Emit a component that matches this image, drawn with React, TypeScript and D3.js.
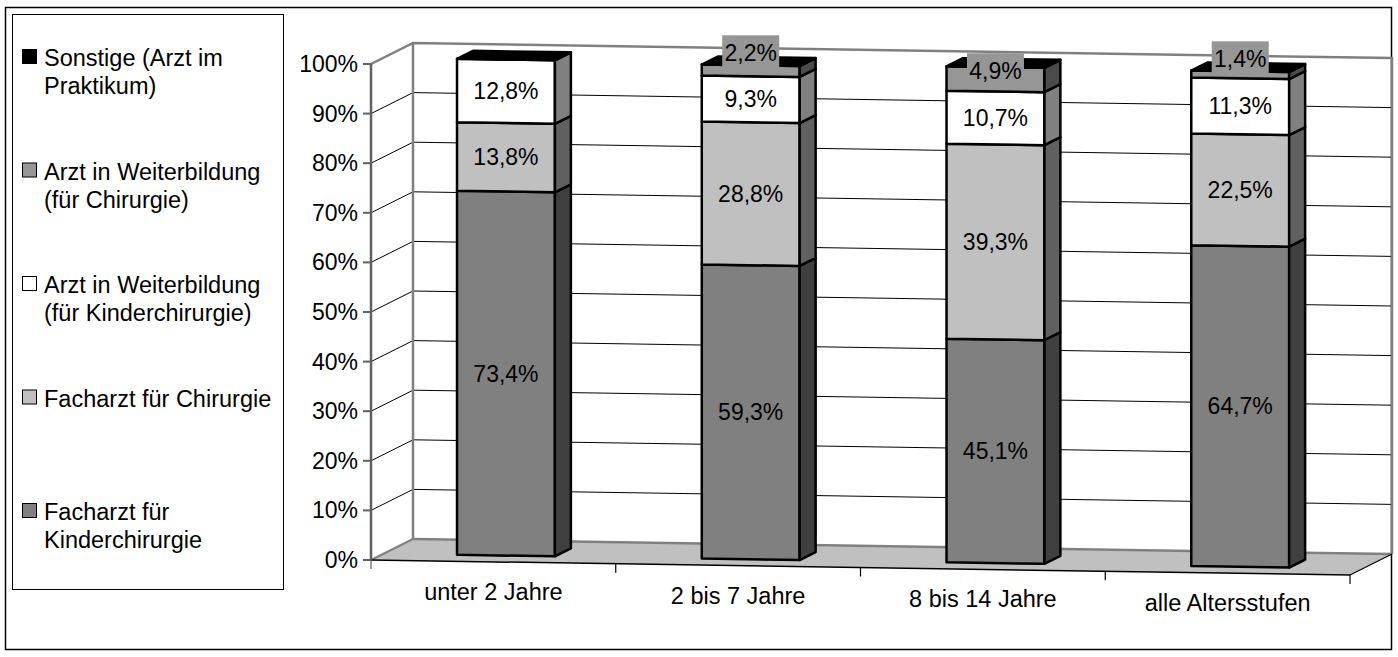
import React from "react";
import * as d3 from "d3";

// Category axis and series data (percent of cases by surgeon qualification)
const categories = ["unter 2 Jahre", "2 bis 7 Jahre", "8 bis 14 Jahre", "alle Altersstufen"];
const facharztKinderchirurgie = [73.4, 59.3, 45.1, 64.7];
const facharztChirurgie = [13.8, 28.8, 39.3, 22.5];
const weiterbildungKinderchirurgie = [12.8, 9.3, 10.7, 11.3];
const weiterbildungChirurgie = [0, 2.2, 4.9, 1.4];
const sonstige = [0, 0, 0, 0];
const yTicks = [0, 10, 20, 30, 40, 50, 60, 70, 80, 90, 100];

const seriesKeys = ["fk", "fc", "wk", "wc", "so"];
const seriesFront = ["#808080", "#c0c0c0", "#ffffff", "#969696", "#000000"];
const seriesSide = ["#404040", "#606060", "#808080", "#4b4b4b", "#000000"];
const legendEntries = [
  { key: "so", lines: ["Sonstige (Arzt im", "Praktikum)"] },
  { key: "wc", lines: ["Arzt in Weiterbildung", "(für Chirurgie)"] },
  { key: "wk", lines: ["Arzt in Weiterbildung", "(für Kinderchirurgie)"] },
  { key: "fc", lines: ["Facharzt für Chirurgie"] },
  { key: "fk", lines: ["Facharzt für", "Kinderchirurgie"] },
];

const FONT = "'Liberation Sans', Arial, Helvetica, sans-serif";
const W = 1398;
const H = 657;

// Oblique projection of the plot box: u along categories, v value, d depth
const X0 = 371, Y0 = 560;
const UX = 979, UY = 15;
const VH = 496;
const DX = 42, DY = -21;
const D0 = 0.3, D1 = 0.68;

const P = (u: number, v: number, d: number): [number, number] => [
  X0 + UX * u + DX * d,
  Y0 + UY * u - VH * v + DY * d,
];
const poly = (pts: [number, number][]) => pts.map((p) => p.join(",")).join(" ");

const de = d3.formatLocale({ decimal: ",", thousands: ".", grouping: [3], currency: ["", " €"] });
const fmt = de.format(".1f");

export default function App() {
  const rows = categories.map((c, i) => ({
    cat: c,
    fk: facharztKinderchirurgie[i],
    fc: facharztChirurgie[i],
    wk: weiterbildungKinderchirurgie[i],
    wc: weiterbildungChirurgie[i],
    so: sonstige[i],
  }));
  const stack = d3.stack<any>().keys(seriesKeys)(rows);

  const xBand = d3.scaleBand<string>().domain(categories).range([0, 1]).paddingInner(0.6).paddingOuter(0.3);
  const vScale = d3.scaleLinear().domain([0, 100]).range([0, 1]);
  const bw = xBand.bandwidth();
  const step = xBand.step();

  const floor = [P(0, 0, 0), P(1, 0, 0), P(1, 0, 1), P(0, 0, 1)];

  const bars: React.ReactNode[] = [];
  const labels: React.ReactNode[] = [];

  categories.forEach((cat, i) => {
    const u0 = xBand(cat)!;
    const u1 = u0 + bw;
    const uc = u0 + bw / 2;
    let top = 0;
    stack.forEach((layer, j) => {
      const [a, b] = layer[i];
      const v0 = vScale(a);
      const v1 = vScale(b);
      top = Math.max(top, v1);
      if (b - a <= 0) return;
      bars.push(
        <g key={`s${i}-${j}`}>
          <polygon
            points={poly([P(u0, v0, D0), P(u1, v0, D0), P(u1, v1, D0), P(u0, v1, D0)])}
            fill={seriesFront[j]}
            stroke="#000"
            strokeWidth={2.5}
            strokeLinejoin="round"
          />
          <polygon
            points={poly([P(u1, v0, D0), P(u1, v0, D1), P(u1, v1, D1), P(u1, v1, D0)])}
            fill={seriesSide[j]}
            stroke="#000"
            strokeWidth={2.5}
            strokeLinejoin="round"
          />
        </g>
      );
      const value = b - a;
      const cx = P(uc, 0, D0)[0];
      const yTop = P(uc, v1, D0)[1];
      const yBot = P(uc, v0, D0)[1];
      const boxed = seriesKeys[j] === "wc";
      let cy = (yTop + yBot) / 2;
      if (boxed) cy = yBot - yTop < 20 ? yTop - 12 : cy - 8;
      const txt = fmt(value) + "%";
      labels.push(
        <g key={`l${i}-${j}`}>
          {boxed && <rect x={cx - 28.5} y={cy - 18} width={57} height={34} fill="#969696" />}
          <text x={cx} y={cy + 8} textAnchor="middle" fontSize={23} fontFamily={FONT} fill="#000">
            {txt}
          </text>
        </g>
      );
    });
    // top face of the stack (last series colour)
    bars.push(
      <polygon
        key={`t${i}`}
        points={poly([P(u0, top, D0), P(u1, top, D0), P(u1, top, D1), P(u0, top, D1)])}
        fill={seriesFront[seriesFront.length - 1]}
        stroke="#000"
        strokeWidth={2.5}
        strokeLinejoin="round"
      />
    );
  });

  const gridV = yTicks.filter((t) => t > 0 && t < 100).map((t) => vScale(t));
  const catBounds = d3.range(categories.length + 1).map((k) => (k === 0 ? 0 : k === categories.length ? 1 : xBand(categories[k])! - (step - bw) / 2));

  return (
    <svg width={W} height={H} style={{ position: "absolute", left: 0, top: 0, background: "#fff" }}>
      <rect x={0} y={0} width={W} height={H} fill="#fff" />
      {/* chart frame */}
      <rect x={5.5} y={7.5} width={1386} height={642} fill="none" stroke="#000" strokeWidth={1.5} />

      {/* back wall gridlines */}
      {gridV.map((v, k) => (
        <line key={`bg${k}`} x1={P(0, v, 1)[0]} y1={P(0, v, 1)[1]} x2={P(1, v, 1)[0]} y2={P(1, v, 1)[1]} stroke="#000" strokeWidth={1} />
      ))}
      {/* side wall gridlines */}
      {gridV.map((v, k) => (
        <line key={`sg${k}`} x1={P(0, v, 0)[0]} y1={P(0, v, 0)[1]} x2={P(0, v, 1)[0]} y2={P(0, v, 1)[1]} stroke="#000" strokeWidth={1} />
      ))}

      {/* wall edges */}
      <polyline points={poly([P(0, 1, 0), P(0, 1, 1), P(1, 1, 1), P(1, 0, 1)])} fill="none" stroke="#808080" strokeWidth={2.5} />
      <line x1={P(0, 0, 1)[0]} y1={P(0, 0, 1)[1]} x2={P(0, 1, 1)[0]} y2={P(0, 1, 1)[1]} stroke="#808080" strokeWidth={2.5} />

      {/* floor */}
      <polygon points={poly(floor)} fill="#c0c0c0" stroke="none" />
      <line x1={floor[3][0]} y1={floor[3][1]} x2={floor[2][0]} y2={floor[2][1]} stroke="#808080" strokeWidth={2.5} />
      <line x1={floor[0][0]} y1={floor[0][1]} x2={floor[3][0]} y2={floor[3][1]} stroke="#808080" strokeWidth={2} />
      <line x1={floor[1][0]} y1={floor[1][1]} x2={floor[2][0]} y2={floor[2][1]} stroke="#000" strokeWidth={1.2} />
      <line x1={floor[0][0]} y1={floor[0][1]} x2={floor[1][0]} y2={floor[1][1]} stroke="#000" strokeWidth={1.5} />

      {/* value axis */}
      <line x1={P(0, 0, 0)[0]} y1={P(0, 0, 0)[1]} x2={P(0, 1, 0)[0]} y2={P(0, 1, 0)[1]} stroke="#606060" strokeWidth={2.5} />
      {yTicks.map((t) => {
        const [x, y] = P(0, vScale(t), 0);
        return (
          <g key={`yt${t}`}>
            <line x1={x - 8} y1={y} x2={x} y2={y} stroke="#606060" strokeWidth={2} />
            <text x={x - 13} y={y + 8} textAnchor="end" fontSize={23} fontFamily={FONT} fill="#000">
              {t}%
            </text>
          </g>
        );
      })}

      {/* category ticks and labels */}
      {catBounds.map((u, k) => {
        const [x, y] = P(u, 0, 0);
        return <line key={`ct${k}`} x1={x} y1={y} x2={x} y2={y + 9} stroke={k === 0 ? "#606060" : "#000"} strokeWidth={1.2} />;
      })}
      {categories.map((c) => {
        const [x, y] = P(xBand(c)! + bw / 2, 0, 0);
        return (
          <text key={`cl${c}`} x={x} y={y + 38} textAnchor="middle" fontSize={23.5} fontFamily={FONT} fill="#000">
            {c}
          </text>
        );
      })}

      {bars}
      {labels}

      {/* legend */}
      <rect x={12.5} y={14.5} width={271} height={575} fill="#fff" stroke="#000" strokeWidth={1} />
      {legendEntries.map((e, k) => {
        const base = 66 + k * 113.5;
        const j = seriesKeys.indexOf(e.key);
        return (
          <g key={`lg${k}`}>
            <rect x={22.5} y={base - 16.5} width={14} height={14} fill={seriesFront[j]} stroke="#000" strokeWidth={1} />
            {e.lines.map((ln, m) => (
              <text key={m} x={44} y={base + m * 28} fontSize={23.5} fontFamily={FONT} fill="#000">
                {ln}
              </text>
            ))}
          </g>
        );
      })}
    </svg>
  );
}
